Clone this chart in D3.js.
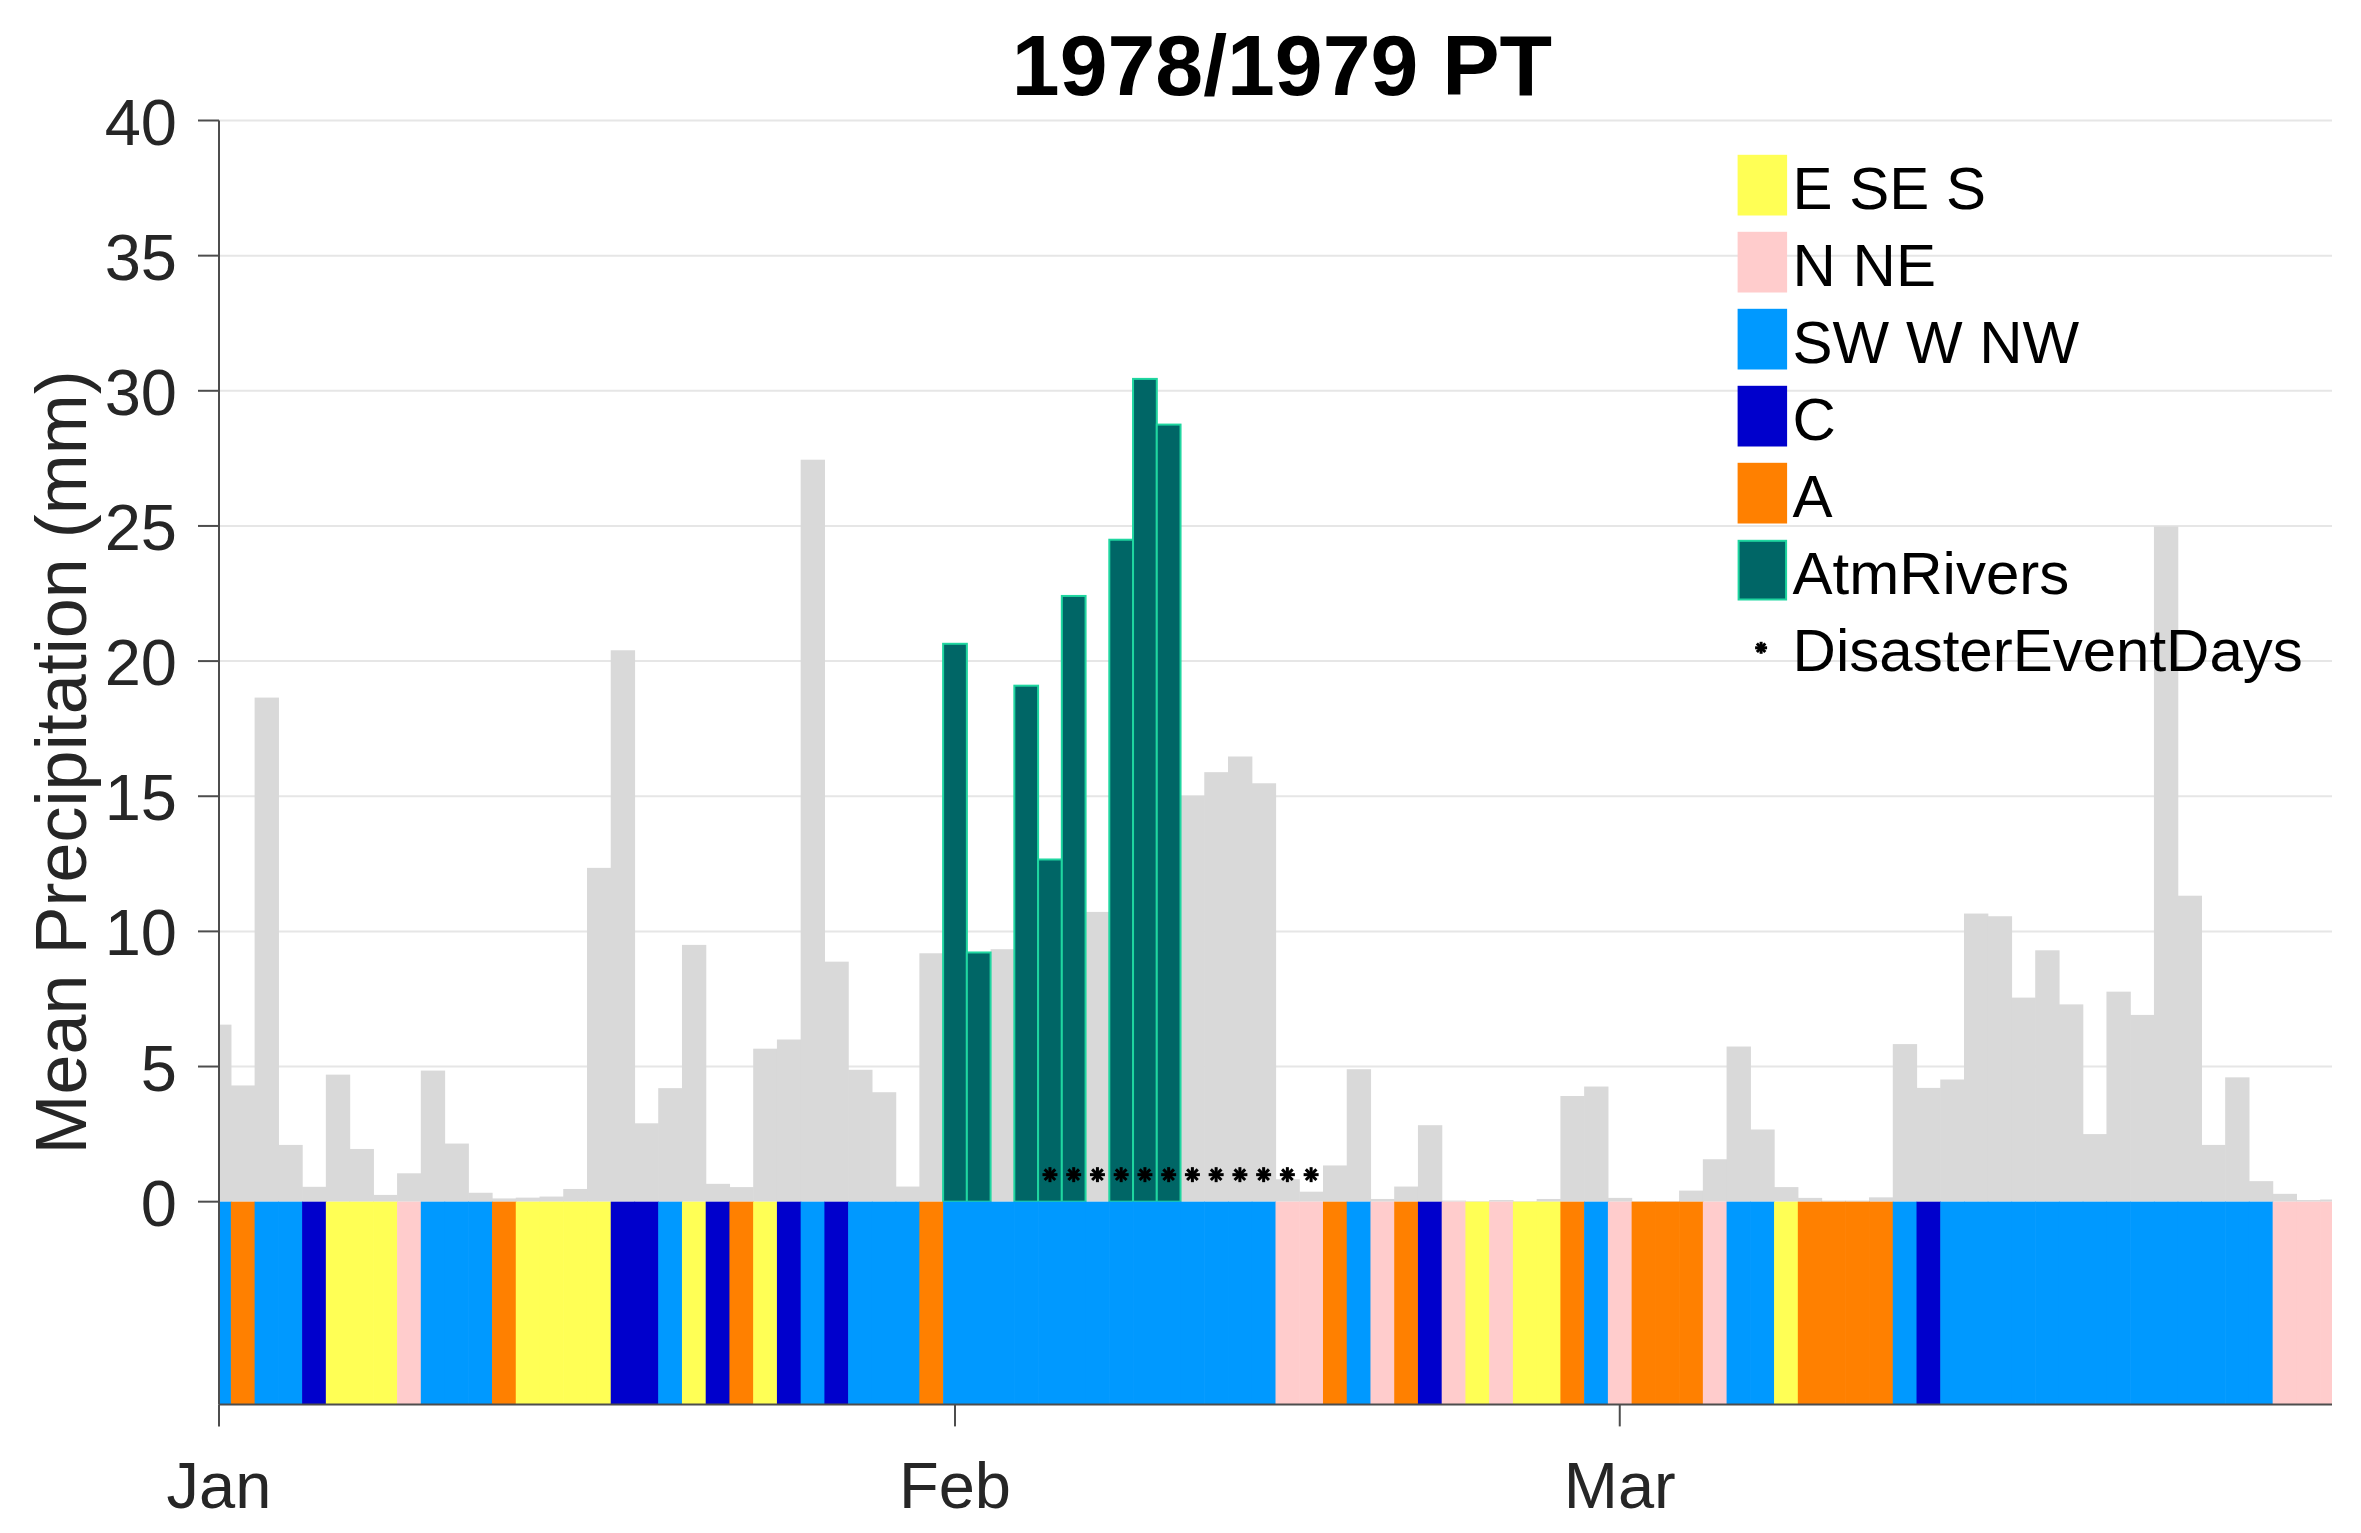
<!DOCTYPE html>
<html>
<head>
<meta charset="utf-8">
<script src="https://cdn.jsdelivr.net/npm/d3@7"></script>
<style>
  body { margin: 0; background: #fff; }
  text { font-family: 'Liberation Sans', Arial, sans-serif; }
</style>
</head>
<body>
<svg id="chart" width="2361" height="1533"></svg>
<script>
// daily mean precipitation, 1 Jan - 31 Mar 1979 (mm)
const precip = [6.55, 4.3, 18.65, 2.1, 0.55, 4.7, 1.95, 0.25, 1.05, 4.85,
  2.15, 0.33, 0.12, 0.15, 0.19, 0.47, 12.35, 20.4, 2.9, 4.2,
  9.5, 0.66, 0.54, 5.66, 6.0, 27.45, 8.88, 4.88, 4.05, 0.56,
  9.19, 20.64, 9.22, 9.34, 19.09, 12.66, 22.41, 10.72, 24.49, 30.44,
  28.75, 15.02, 15.89, 16.47, 15.48, 0.83, 0.37, 1.34, 4.9, 0.1,
  0.56, 2.83, 0.04, 0.02, 0.06, 0.02, 0.1, 3.91, 4.26, 0.14,
  0.02, 0.02, 0.41, 1.57, 5.74, 2.67, 0.54, 0.14, 0.04, 0.04,
  0.16, 5.83, 4.21, 4.52, 10.66, 10.56, 7.55, 9.3, 7.3, 2.5,
  7.77, 6.91, 24.98, 11.32, 2.1, 4.6, 0.76, 0.29, 0.06, 0.08]

// weather type of each day
const weatherType = ['SW W NW', 'A', 'SW W NW', 'SW W NW', 'C', 'E SE S', 'E SE S', 'E SE S', 'N NE', 'SW W NW',
  'SW W NW', 'SW W NW', 'A', 'E SE S', 'E SE S', 'E SE S', 'E SE S', 'C', 'C', 'SW W NW',
  'E SE S', 'C', 'A', 'E SE S', 'C', 'SW W NW', 'C', 'SW W NW', 'SW W NW', 'SW W NW',
  'A', 'SW W NW', 'SW W NW', 'SW W NW', 'SW W NW', 'SW W NW', 'SW W NW', 'SW W NW', 'SW W NW', 'SW W NW',
  'SW W NW', 'SW W NW', 'SW W NW', 'SW W NW', 'SW W NW', 'N NE', 'N NE', 'A', 'SW W NW', 'N NE',
  'A', 'C', 'N NE', 'E SE S', 'N NE', 'E SE S', 'E SE S', 'A', 'SW W NW', 'N NE',
  'A', 'A', 'A', 'N NE', 'SW W NW', 'SW W NW', 'E SE S', 'A', 'A', 'A',
  'A', 'SW W NW', 'C', 'SW W NW', 'SW W NW', 'SW W NW', 'SW W NW', 'SW W NW', 'SW W NW', 'SW W NW',
  'SW W NW', 'SW W NW', 'SW W NW', 'SW W NW', 'SW W NW', 'SW W NW', 'SW W NW', 'N NE', 'N NE', 'N NE']

const typeNames = ['E SE S', 'N NE', 'SW W NW', 'C', 'A']
const atmRiverDays = [31, 32, 34, 35, 36, 38, 39, 40]
const disasterDays = [35, 36, 37, 38, 39, 40, 41, 42, 43, 44, 45, 46]
const disasterLevel = 1
const monthTicks = ['Jan', 'Feb', 'Mar']
const yTicks = [0, 5, 10, 15, 20, 25, 30, 35, 40]
const startDay = Date.UTC(1979, 0, 1)

const dayMs = 864e5
const dates = precip.map((_, i) => new Date(startDay + i * dayMs))

const svg = d3.select('#chart')
const plotLeft = 219, plotRight = 2332, plotTop = 120.5, plotBottom = 1404.4

const x = d3.scaleUtc()
    .domain([dates[0], dates[dates.length - 1]])
    .range([plotLeft, plotRight])
const y = d3.scaleLinear().domain([-7.5, 40]).range([plotBottom, plotTop])
const color = d3.scaleOrdinal()
    .domain(typeNames)
    .range(['#ffff55', '#ffcccc', '#0099ff', '#0000cc', '#ff8000'])

const halfDay = (x(dates[1]) - x(dates[0])) / 2

svg.append('clipPath').attr('id', 'plot')
    .append('rect')
    .attr('x', plotLeft).attr('y', plotTop - 5)
    .attr('width', plotRight - plotLeft).attr('height', plotBottom - plotTop + 5)

// grid
svg.append('g')
    .selectAll('line')
    .data(yTicks.slice(1))
    .enter()
    .append('line')
    .attr('x1', plotLeft).attr('x2', plotRight)
    .attr('y1', d => y(d)).attr('y2', d => y(d))
    .style('stroke', '#e6e6e6')
    .style('stroke-width', 2)

const plot = svg.append('g').attr('clip-path', 'url(#plot)')

// all days in grey
plot.append('g')
    .selectAll('rect')
    .data(precip)
    .enter()
    .append('rect')
    .attr('x', (d, i) => x(dates[i]) - halfDay)
    .attr('width', halfDay * 2 + 0.6)
    .attr('y', d => y(d))
    .attr('height', d => y(0) - y(d))
    .style('fill', '#d9d9d9')

// atmospheric river days
plot.append('g')
    .selectAll('rect')
    .data(atmRiverDays)
    .enter()
    .append('rect')
    .attr('x', i => x(dates[i]) - halfDay)
    .attr('width', halfDay * 2)
    .attr('y', i => y(precip[i]))
    .attr('height', i => y(0) - y(precip[i]))
    .style('fill', '#006666')
    .style('stroke', '#1fd6a0')
    .style('stroke-width', 2)

// weather type strip
plot.append('g')
    .selectAll('rect')
    .data(weatherType)
    .enter()
    .append('rect')
    .attr('x', (d, i) => x(dates[i]) - halfDay)
    .attr('width', halfDay * 2 + 0.6)
    .attr('y', y(0))
    .attr('height', y(-7.5) - y(0))
    .style('fill', d => color(d))

// asterisk marker
function asterisk(g, r) {
    [0, 45, 90, 135].forEach(a => {
        const rad = a * Math.PI / 180
        g.append('line')
            .attr('x1', -r * Math.cos(rad)).attr('y1', -r * Math.sin(rad))
            .attr('x2', r * Math.cos(rad)).attr('y2', r * Math.sin(rad))
            .style('stroke', '#000')
            .style('stroke-width', 3)
    })
}

plot.append('g')
    .selectAll('g')
    .data(disasterDays)
    .enter()
    .append('g')
    .attr('transform', i => `translate(${x(dates[i])},${y(disasterLevel)})`)
    .each(function () { asterisk(d3.select(this), 7.5) })

// axes
const axisColor = '#4d4d4d'
svg.append('line')
    .attr('x1', plotLeft).attr('x2', plotLeft)
    .attr('y1', plotTop).attr('y2', plotBottom)
    .style('stroke', axisColor).style('stroke-width', 2)
svg.append('line')
    .attr('x1', plotLeft).attr('x2', plotRight)
    .attr('y1', plotBottom).attr('y2', plotBottom)
    .style('stroke', axisColor).style('stroke-width', 2)

const yAxis = svg.append('g')
yAxis.selectAll('line')
    .data(yTicks)
    .enter()
    .append('line')
    .attr('x1', plotLeft - 21).attr('x2', plotLeft)
    .attr('y1', d => y(d)).attr('y2', d => y(d))
    .style('stroke', axisColor).style('stroke-width', 2)
yAxis.selectAll('text')
    .data(yTicks)
    .enter()
    .append('text')
    .attr('x', 177)
    .attr('y', d => y(d) + 24)
    .attr('text-anchor', 'end')
    .style('font-size', '65px')
    .style('fill', '#262626')
    .text(d => d)

const monthDates = d3.utcMonths(dates[0], new Date(dates[dates.length - 1].getTime() + 1))
const xAxis = svg.append('g')
xAxis.selectAll('line')
    .data(monthDates)
    .enter()
    .append('line')
    .attr('x1', d => x(d)).attr('x2', d => x(d))
    .attr('y1', plotBottom).attr('y2', plotBottom + 22)
    .style('stroke', axisColor).style('stroke-width', 2)
xAxis.selectAll('text')
    .data(monthDates)
    .enter()
    .append('text')
    .attr('x', d => x(d))
    .attr('y', 1508)
    .attr('text-anchor', 'middle')
    .style('font-size', '65px')
    .style('fill', '#262626')
    .text((d, i) => monthTicks[i])

svg.append('text')
    .attr('transform', `translate(86,${(plotTop + plotBottom) / 2}) rotate(-90)`)
    .attr('text-anchor', 'middle')
    .style('font-size', '72px')
    .style('fill', '#262626')
    .text('Mean Precipitation (mm)')

svg.append('text')
    .attr('x', 1282)
    .attr('y', 95)
    .attr('text-anchor', 'middle')
    .style('font-size', '86px')
    .style('font-weight', 'bold')
    .style('fill', '#000')
    .text('1978/1979 PT')

// legend
const legendItems = typeNames.concat(['AtmRivers', 'DisasterEventDays'])
const legend = svg.append('g').attr('transform', 'translate(1737.6,154.8)')
const rowStep = 77
legendItems.forEach((name, k) => {
    const row = legend.append('g').attr('transform', `translate(0,${k * rowStep})`)
    if (k < typeNames.length) {
        row.append('rect')
            .attr('width', 49.5).attr('height', 60.7)
            .style('fill', color(name))
    } else if (name === 'AtmRivers') {
        row.append('rect')
            .attr('x', 1).attr('y', 1)
            .attr('width', 47.5).attr('height', 58.7)
            .style('fill', '#006666')
            .style('stroke', '#1fd6a0')
            .style('stroke-width', 2)
    } else {
        const g = row.append('g').attr('transform', 'translate(23.5,31)')
        asterisk(g, 6)
    }
    row.append('text')
        .attr('x', 55)
        .attr('y', 54)
        .style('font-size', '60px')
        .style('fill', '#000')
        .text(name)
})
</script>
</body>
</html>
